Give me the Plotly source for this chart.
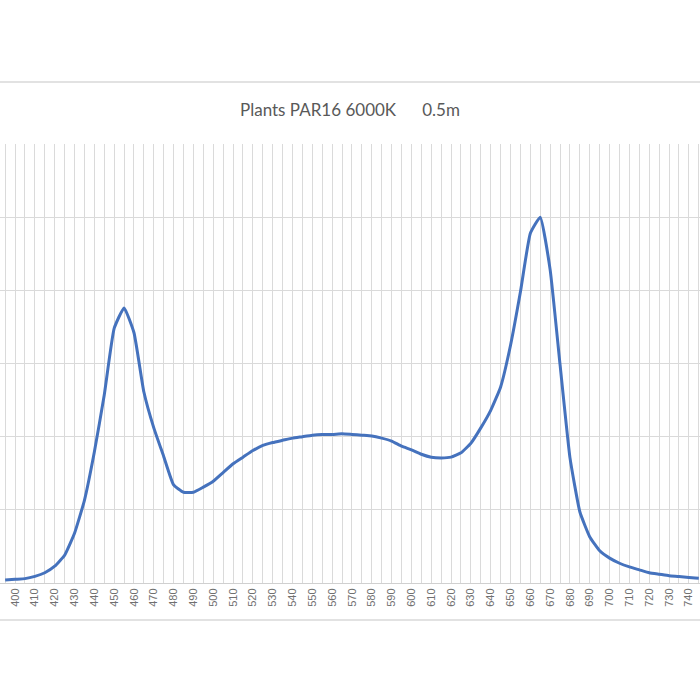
import plotly.graph_objects as go

wavelength_nm = [395, 400, 405, 410, 415, 420, 425, 430, 435, 440, 445, 450, 455, 460, 465, 470,
                 475, 480, 485, 490, 495, 500, 505, 510, 515, 520, 525, 530, 535, 540, 545, 550,
                 555, 560, 565, 570, 575, 580, 585, 590, 595, 600, 605, 610, 615, 620, 625, 630,
                 635, 640, 645, 650, 655, 660, 665, 670, 675, 680, 685, 690, 695, 700, 705, 710,
                 715, 720, 725, 730, 735, 740, 745]
intensity = [0.04, 0.05, 0.06, 0.09, 0.14, 0.23, 0.38, 0.68, 1.13, 1.79, 2.57, 3.48, 3.76, 3.42, 2.61, 2.12,
             1.73, 1.34, 1.24, 1.24, 1.31, 1.39, 1.51, 1.63, 1.72, 1.81, 1.88, 1.92, 1.95, 1.98, 2.00, 2.02,
             2.03, 2.03, 2.04, 2.03, 2.02, 2.01, 1.98, 1.94, 1.87, 1.82, 1.76, 1.72, 1.71, 1.72, 1.78, 1.91,
             2.12, 2.36, 2.68, 3.25, 3.98, 4.78, 5.00, 4.28, 2.98, 1.71, 0.97, 0.63, 0.44, 0.34, 0.27, 0.22,
             0.18, 0.14, 0.12, 0.10, 0.09, 0.075, 0.065]
tick_values = list(range(400, 750, 10))
tick_labels = [str(v) for v in tick_values]
title_text = "Plants PAR16 6000K" + "\u00a0" * 6 + "0.5m"

fig = go.Figure()
fig.add_trace(go.Scatter(
    x=wavelength_nm, y=intensity, mode="lines",
    line=dict(color="#4572BD", width=3, shape="spline", smoothing=0.4),
    hoverinfo="skip", showlegend=False,
))

grid_col = "#dadada"
fig.update_layout(
    width=700, height=700,
    margin=dict(l=0, r=0, t=144, b=117),
    paper_bgcolor="white", plot_bgcolor="white",
    title=dict(text=title_text, x=0.5, xanchor="center", y=1 - 110 / 700, yanchor="middle",
               font=dict(family="Lato, Open Sans, sans-serif", size=17, color="#595959")),
    xaxis=dict(
        range=[392.4, 745.6], tickmode="array", tickvals=tick_values, ticktext=tick_labels,
        tickangle=-90, tickfont=dict(family="Liberation Sans, sans-serif", size=11, color="#707070"),
        showgrid=True, gridcolor=grid_col, gridwidth=1,
        minor=dict(tickmode="linear", tick0=395, dtick=10, showgrid=True, gridcolor=grid_col, gridwidth=1),
        showline=True, linecolor="#d0d0d0", linewidth=1, ticks="", zeroline=False,
    ),
    yaxis=dict(
        range=[0, 6], dtick=1, showgrid=True, gridcolor=grid_col, gridwidth=1,
        showticklabels=False, zeroline=False, showline=False, ticks="",
    ),
)

# chart area border (top and bottom edges visible in the crop)
for yy in [(583 - 82) / 439, (583 - 620) / 439]:
    fig.add_shape(type="line", xref="paper", yref="paper", x0=-0.01, x1=1.01, y0=yy, y1=yy,
                  line=dict(color="#d9d9d9", width=1.5))

fig.write_html("out.html", config={"displayModeBar": False},
               post_script="document.body.style.margin='0px';")
